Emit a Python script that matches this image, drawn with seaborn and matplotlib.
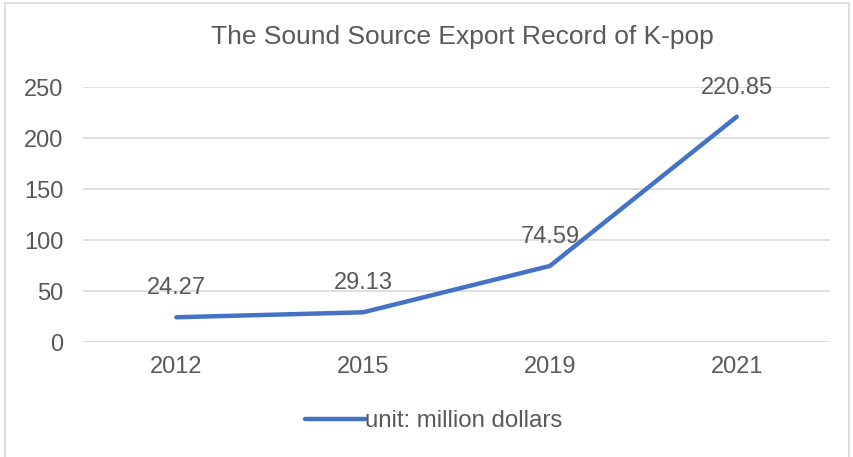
import pandas as pd
import seaborn as sns
import matplotlib.pyplot as plt
from matplotlib.patches import Rectangle

# Data
years = ["2012", "2015", "2019", "2021"]
exports = [24.27, 29.13, 74.59, 220.85]
series_name = "unit: million dollars"

df = pd.DataFrame({"Year": years, "Export": exports})

sns.set_style("white")
plt.rcParams['font.family'] = ['Liberation Sans', 'DejaVu Sans']

text_color = "#595959"
line_color = "#4472C4"

fig = plt.figure(figsize=(8.54, 4.57), dpi=100)
ax = fig.add_axes([0.0972, 0.2516, 0.8748, 0.558])

sns.lineplot(data=df, x="Year", y="Export", ax=ax, color=line_color,
             linewidth=3.2, solid_capstyle="round", label=series_name, sort=False)

ax.set_xlim(-0.5, len(years) - 0.5)
ax.set_ylim(0, 250)
ax.set_yticks(range(0, 251, 50))
ax.yaxis.grid(True, color="#D9D9D9", linewidth=1.2)
ax.set_axisbelow(True)
for s in ax.spines.values():
    s.set_visible(False)
ax.tick_params(axis="both", length=0, labelsize=17, colors=text_color)
ax.tick_params(axis="y", pad=14)
ax.tick_params(axis="x", pad=10)
ax.set_xlabel("")
ax.set_ylabel("")

# Data labels
for i, v in enumerate(exports):
    ax.annotate(f"{v:.2f}", (i, v), xytext=(0, 13), textcoords="offset points",
                ha="center", va="bottom", fontsize=17, color=text_color)

# Title
fig.text(0.542, 0.918, "The Sound Source Export Record of K-pop",
         ha="center", va="center", fontsize=19, color=text_color)

# Legend
leg = ax.legend(loc="center", bbox_to_anchor=(0.508, 0.0785), bbox_transform=fig.transFigure,
                frameon=False, fontsize=17.3, handlelength=2.5, handletextpad=0.0)
for t in leg.get_texts():
    t.set_color(text_color)

# Chart border
fig.patches.append(Rectangle((0.006, -0.01), 0.988, 1.003, transform=fig.transFigure,
                             fill=False, edgecolor="#D9D9D9", linewidth=1.2))

fig.savefig("out.png", dpi=100)
